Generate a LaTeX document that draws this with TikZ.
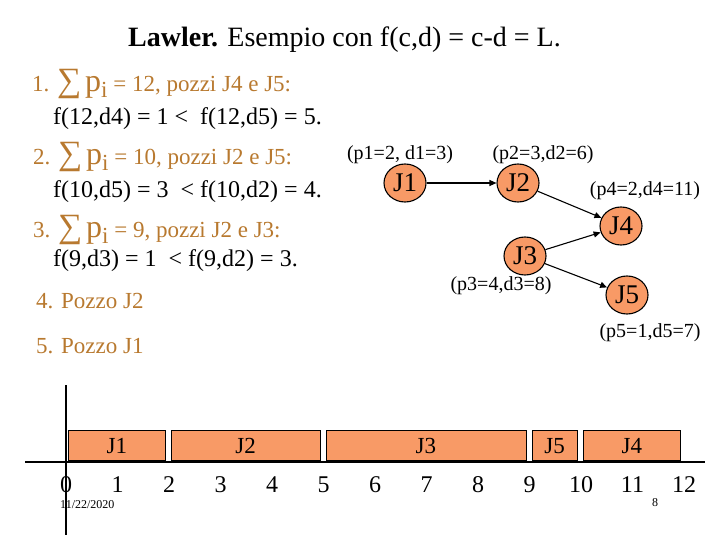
\documentclass[tikz,border=0pt]{standalone}
\usepackage{fontspec}
\setmainfont{Liberation Serif}
\usepackage{tikz}
\usetikzlibrary{positioning,arrows.meta,shapes.geometric}
\definecolor{ink}   {HTML}{000000}
\definecolor{ochre} {HTML}{B8792F}
\definecolor{salmon}{HTML}{F89A66}
\newcommand{\fs}[1]{\fontsize{#1}{#1}\selectfont}
\newcommand{\sump}{{\fs{34}∑}\,{\fs{32}p}\raisebox{-6pt}{i}}
\tikzset{
  title/.style  = {font=\fs{28}, text=ink, anchor=base west, inner sep=0pt},
  rule/.style   = {font=\fs{23}, text=ochre, anchor=base west, inner sep=0pt},
  ineq/.style   = {font=\fs{24}, text=ink, anchor=base west, inner sep=0pt},
  job/.style    = {ellipse, draw=ink, fill=salmon, line width=1.1pt,
                   minimum width=42pt, minimum height=38pt, inner sep=0pt,
                   font=\fs{27}},
  param/.style  = {font=\fs{20}, inner sep=0pt},
  prec/.style   = {-{Triangle[length=7pt,width=6pt]}, line width=1.1pt},
  bar/.style    = {draw=ink, fill=salmon, line width=0.6pt, inner sep=0pt,
                   anchor=south west, minimum height=30pt, font=\fs{23}},
  tick/.style   = {font=\fs{24}, anchor=base, inner sep=0pt},
  axis/.style   = {line width=1.6pt},
  foot/.style   = {font=\fs{12}, inner sep=0pt},
}

\begin{document}
\begin{tikzpicture}[x=1pt, y=-1pt]
  \useasboundingbox (0,0) rectangle (720,540);

  % heading
  \node[title] (head) at (128,47) {\textbf{Lawler.} Esempio con f(c,d) = c-d = L.};

  % steps of the rule
  \node[rule] (r1) at (32,92)  {1. \sump\ = 12, pozzi J4 e J5:};
  \node[ineq] (f1) at (53,125) {f(12,d4) = 1 < \ f(12,d5) = 5.};
  \node[rule] (r2) at (33,165) {2. \sump\ = 10, pozzi J2 e J5:};
  \node[ineq] (f2) at (53,198) {f(10,d5) = 3 \ < f(10,d2) = 4.};
  \node[rule] (r3) at (33,237) {3. \sump\ = 9, pozzi J2 e J3:};
  \node[ineq] (f3) at (53,266) {f(9,d3) = 1 \ < f(9,d2) = 3.};
  \node[rule] (r4) at (36,308) {4. Pozzo J2};
  \node[rule] (r5) at (36,353) {5. Pozzo J1};

  % precedence graph
  \node[job] (j1) at (405,183) {J1};
  \node[job] (j2) at (518,183) {J2};
  \node[job] (j4) at (621,226) {J4};
  \node[job] (j3) at (525,256) {J3};
  \node[job] (j5) at (627,295) {J5};
  \node[param] (p1) at (400,155) {(p1=2, d1=3)};
  \node[param] (p2) at (543,155) {(p2=3,d2=6)};
  \node[param] (p4) at (645,191) {(p4=2,d4=11)};
  \node[param] (p3) at (501,286) {(p3=4,d3=8)};
  \node[param] (p5) at (650,333) {(p5=1,d5=7)};
  \draw[prec] (j1) -- (j2);
  \draw[prec] (j2) -- (j4);
  \draw[prec] (j3) -- (j4);
  \draw[prec] (j3) -- (j5);

  % schedule
  \foreach \s/\e/\j in {0/2/J1, 2/5/J2, 5/9/J3, 9/10/J5, 10/12/J4}
    \node[bar, minimum width={(\e-\s)*51.5-6}] (b\j) at ({68+\s*51.5},461) {\j};
  \draw[axis] (25,462) -- (705,462);
  \draw[axis] (66,385) -- (66,535);
  \foreach \t in {0,...,12}
    \node[tick] (t\t) at ({66+\t*51.5},492) {\t};

  \node[foot, anchor=west] (date) at (60,505) {11/22/2020};
  \node[foot] (page) at (655,503) {8};
\end{tikzpicture}
\end{document}
